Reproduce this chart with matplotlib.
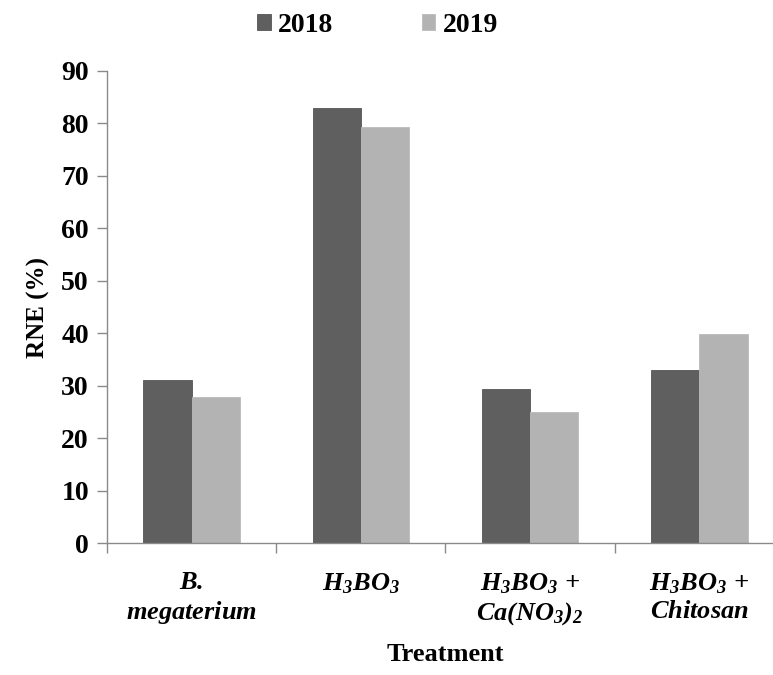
import matplotlib
matplotlib.use("Agg")
import matplotlib.pyplot as plt
import numpy as np

categories = ["$B.$\n$megaterium$", "$H_3BO_3$", "$H_3BO_3\\,+$\n$Ca(NO_3)_2$", "$H_3BO_3\\,+$\n$Chitosan$"]
series_names = ["2018", "2019"]
vals_2018 = [31.1, 82.9, 29.4, 33.0]
vals_2019 = [27.8, 79.3, 25.0, 39.8]
yticks = [0, 10, 20, 30, 40, 50, 60, 70, 80, 90]

plt.rcParams['font.family'] = ['Liberation Serif', 'DejaVu Serif']
plt.rcParams['font.weight'] = 'bold'
plt.rcParams['mathtext.fontset'] = 'custom'
plt.rcParams['mathtext.rm'] = 'Liberation Serif:italic:bold'
plt.rcParams['mathtext.it'] = 'Liberation Serif:italic:bold'
plt.rcParams['mathtext.bf'] = 'Liberation Serif:italic:bold'

fig = plt.figure(figsize=(7.73, 6.75), dpi=100)
ax = fig.add_axes([0.1384, 0.1951, 0.8758, 0.700])

x = np.arange(len(categories))
w = 0.285
c18 = '#5f5f5f'
c19 = '#b3b3b3'
ax.bar(x - w/2, vals_2018, w, color=c18, edgecolor='#555555', linewidth=0.6, label=series_names[0])
ax.bar(x + w/2, vals_2019, w, color=c19, edgecolor='#bbbbbb', linewidth=0.6, label=series_names[1])

ax.set_xlim(-0.5, 3.5)
ax.set_ylim(0, 90)
ax.set_yticks(yticks)
ax.set_yticklabels([str(t) for t in yticks], fontsize=20, fontweight='bold')
ax.set_xticks(x)
ax.set_xticklabels(categories, fontsize=19, linespacing=1.25)
ax.set_xticks([-0.5, 0.5, 1.5, 2.5, 3.5], minor=True)
ax.tick_params(axis='x', which='major', length=0, pad=20)
ax.tick_params(axis='x', which='minor', length=7, color='#8a8a8a', width=1)
ax.tick_params(axis='y', length=7, color='#8a8a8a', width=1, pad=6)

for s in ['top', 'right']:
    ax.spines[s].set_visible(False)
for s in ['left', 'bottom']:
    ax.spines[s].set_color('#8a8a8a')
    ax.spines[s].set_linewidth(1)

ax.set_ylabel('RNE (%)', fontsize=18, fontweight='bold', labelpad=8)
ax.set_xlabel('Treatment', fontsize=19, fontweight='bold', labelpad=11)

leg = fig.legend(loc='center', bbox_to_anchor=(0.488, 1 - 25/675), ncol=2, frameon=False,
                 handlelength=0.5, handleheight=0.5, handletextpad=0.25,
                 columnspacing=3.2, prop={'weight': 'bold', 'size': 20})

fig.savefig('out.png', dpi=100)
